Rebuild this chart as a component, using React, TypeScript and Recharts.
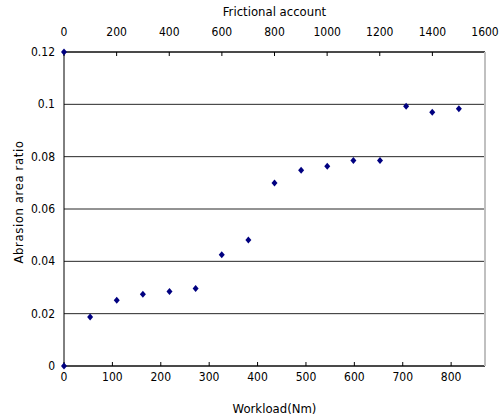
import React from 'react';
import { ScatterChart, Scatter, XAxis, YAxis, CartesianGrid } from 'recharts';

const workload = [0, 54, 109, 163, 218, 272, 326, 381, 435, 490, 544, 598, 653, 707, 761, 816];
const ratio = [0, 0.0187, 0.0251, 0.0274, 0.0285, 0.0296, 0.0425, 0.0482, 0.0699, 0.0748, 0.0763, 0.0785, 0.0785, 0.0993, 0.097, 0.0983];
const frictional = [0];
const frictionalRatio = [0.12];

const bottomTicks = [0, 100, 200, 300, 400, 500, 600, 700, 800];
const topTicks = [0, 200, 400, 600, 800, 1000, 1200, 1400, 1600];
const yTicks = [0, 0.02, 0.04, 0.06, 0.08, 0.1, 0.12];

const mainData = workload.map((w, i) => ({ x: w, y: ratio[i] }));
const topData = frictional.map((f, i) => ({ x: f, y: frictionalRatio[i] }));

const FONT = "'Liberation Sans Narrow', 'Arial Narrow', 'DejaVu Sans Condensed', sans-serif";

const CenterTick = (props: any) => {
  const { x, y, payload } = props;
  return (
    <text x={x} y={y} textAnchor="middle" dominantBaseline="central" fontFamily={FONT} fontSize={12} fill="#000">
      {payload.value}
    </text>
  );
};

const LeftTick = (props: any) => {
  const { x, y, payload } = props;
  return (
    <text x={x} y={y} textAnchor="end" dominantBaseline="central" fontFamily={FONT} fontSize={12} fill="#000">
      {String(payload.value)}
    </text>
  );
};

const Diamond = (props: any) => {
  const { cx, cy } = props;
  if (cx == null || cy == null) return null;
  const w = 3;
  const h = 3.5;
  return (
    <polygon
      points={`${cx},${cy - h} ${cx + w},${cy} ${cx},${cy + h} ${cx - w},${cy}`}
      fill="#000080"
    />
  );
};

const BottomTitle = (props: any) => {
  const vb = props.viewBox || {};
  return (
    <text x={vb.x + vb.width / 2} y={vb.y + 42} textAnchor="middle" dominantBaseline="central" fontFamily={FONT} fontSize={13} fill="#000">
      Workload(Nm)
    </text>
  );
};

const TopTitle = (props: any) => {
  const vb = props.viewBox || {};
  return (
    <text x={vb.x + vb.width / 2} y={vb.y - 11} textAnchor="middle" dominantBaseline="central" fontFamily={FONT} fontSize={13} fill="#000">
      Frictional account
    </text>
  );
};

const LeftTitle = (props: any) => {
  const vb = props.viewBox || {};
  const cx = 18;
  const cy = vb.y + vb.height / 2 - 7;
  return (
    <text x={cx} y={cy} transform={`rotate(-90, ${cx}, ${cy})`} textAnchor="middle" dominantBaseline="central" fontFamily={FONT} fontSize={13} fill="#000" letterSpacing={0.6}>
      Abrasion area ratio
    </text>
  );
};

export default function App() {
  return (
    <div style={{ position: 'absolute', left: 0, top: 0, background: '#fff' }}>
      <ScatterChart width={504} height={420} margin={{ top: 22, right: 0, bottom: 14, left: 0 }}>
        <CartesianGrid horizontal vertical={false} stroke="#000" strokeOpacity={0.85} />
        <XAxis
          xAxisId="bottom"
          dataKey="x"
          type="number"
          orientation="bottom"
          domain={[0, 870]}
          ticks={bottomTicks}
          height={40}
          axisLine={{ stroke: '#000' }}
          tickLine={{ stroke: '#000' }}
          tickSize={-4}
          tickMargin={15}
          tick={<CenterTick />}
          label={<BottomTitle />}
        />
        <XAxis
          xAxisId="top"
          dataKey="x"
          type="number"
          orientation="top"
          domain={[0, 1600]}
          ticks={topTicks}
          height={30}
          axisLine={{ stroke: '#000' }}
          tickLine={{ stroke: '#000' }}
          tickSize={-4}
          tickMargin={24}
          tick={<CenterTick />}
          label={<TopTitle />}
        />
        <YAxis
          dataKey="y"
          type="number"
          domain={[0, 0.12]}
          ticks={yTicks}
          width={64}
          axisLine={{ stroke: '#000' }}
          tickLine={false}
          tickSize={0}
          tickMargin={9}
          tick={<LeftTick />}
          label={<LeftTitle />}
        />
        <YAxis
          yAxisId="right"
          orientation="right"
          type="number"
          domain={[0, 1]}
          width={19}
          tick={false}
          tickLine={false}
          axisLine={{ stroke: '#c0c0c0', strokeWidth: 2 }}
        />
        <Scatter xAxisId="bottom" data={mainData} shape={<Diamond />} isAnimationActive={false} />
        <Scatter xAxisId="top" data={topData} shape={<Diamond />} isAnimationActive={false} />
      </ScatterChart>
    </div>
  );
}
